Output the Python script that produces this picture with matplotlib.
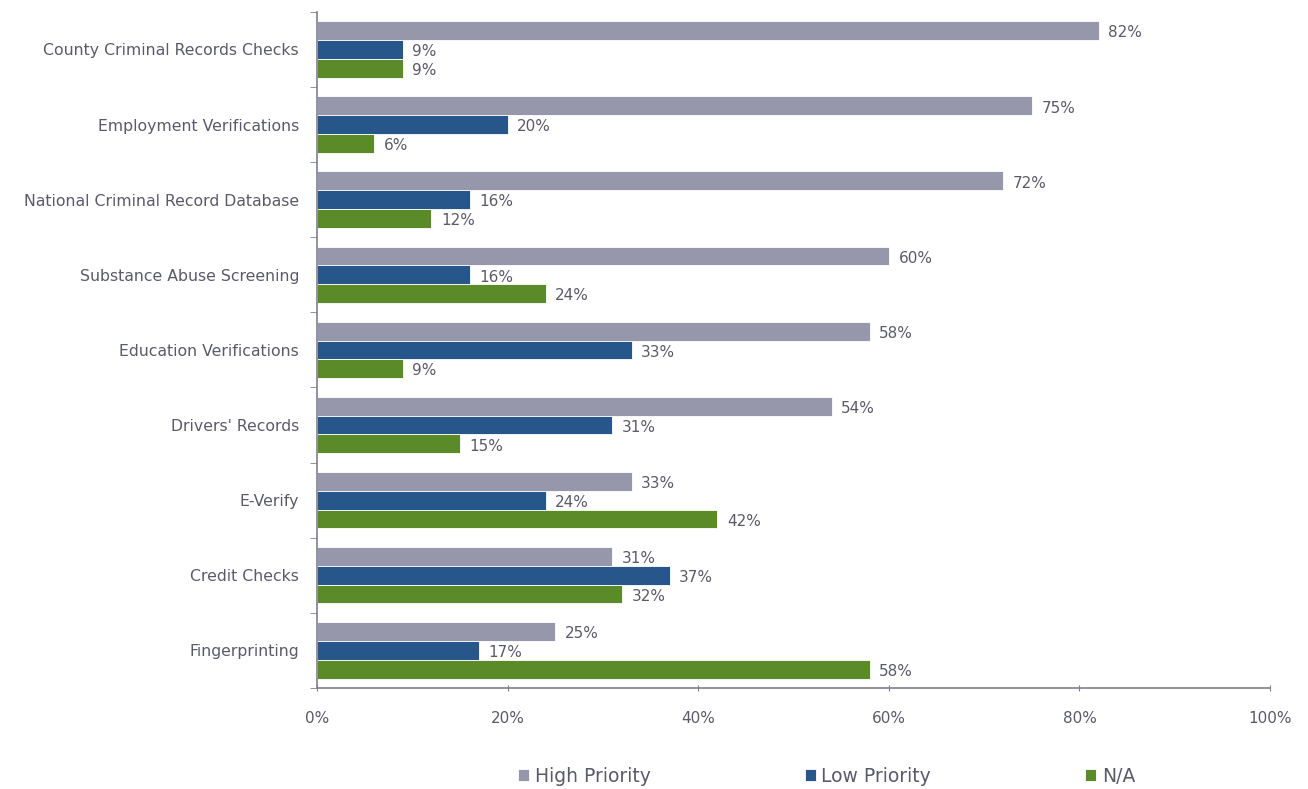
import matplotlib.pyplot as plt
import numpy as np
from matplotlib.ticker import FixedLocator, PercentFormatter

# Survey data (percent)
categories = ['County Criminal Records Checks', 'Employment Verifications',
              'National Criminal Record Database', 'Substance Abuse Screening',
              'Education Verifications', "Drivers' Records", 'E-Verify',
              'Credit Checks', 'Fingerprinting']
high_priority = [82, 75, 72, 60, 58, 54, 33, 31, 25]
low_priority = [9, 20, 16, 16, 33, 31, 24, 37, 17]
not_applicable = [9, 6, 12, 24, 9, 15, 42, 32, 58]

series_names = ['High Priority', 'Low Priority', 'N/A']
colors = ['#9797AC', '#27578A', '#5B8A29']
text_color = '#5A5A6A'
axis_color = '#7F7F90'

fig = plt.figure(figsize=(13.08, 7.89), dpi=100)
ax = fig.add_axes([0.2424, 0.128, 0.7286, 0.857])

y = np.arange(len(categories))
h = 0.25
for i, (vals, name, c) in enumerate(zip([high_priority, low_priority, not_applicable],
                                        series_names, colors)):
    pos = y + (i - 1) * h
    ax.barh(pos, vals, height=h, color=c, label=name, edgecolor='white', linewidth=0.6)
    for p, v in zip(pos, vals):
        ax.text(v + 1.0, p + 0.03, f'{v}%', va='center', ha='left',
                fontsize=11, color=text_color)

ax.set_ylim(len(categories) - 0.5, -0.5)
ax.set_xlim(0, 100)
ax.set_yticks(y)
ax.set_yticklabels(categories, fontsize=11.3, color=text_color)
ax.tick_params(axis='y', which='major', length=0, pad=13)
ax.yaxis.set_minor_locator(FixedLocator(np.arange(-0.5, len(categories), 1)))
ax.tick_params(axis='y', which='minor', length=5, direction='out', color=axis_color)

ax.set_xticks(np.arange(0, 101, 20))
ax.xaxis.set_major_formatter(PercentFormatter(decimals=0))
ax.tick_params(axis='x', length=5, direction='inout', color=axis_color,
               labelsize=11, labelcolor=text_color, pad=14)

for s in ['top', 'right']:
    ax.spines[s].set_visible(False)
for s in ['left', 'bottom']:
    ax.spines[s].set_color(axis_color)
    ax.spines[s].set_linewidth(1.2)

fig.legend(loc='center', bbox_to_anchor=(0.632, 0.016), ncol=3, frameon=False,
           fontsize=13.5, handlelength=0.6, handleheight=0.6, handletextpad=0.3,
           columnspacing=8.2, labelcolor=text_color)

fig.savefig('out.png', dpi=100)
